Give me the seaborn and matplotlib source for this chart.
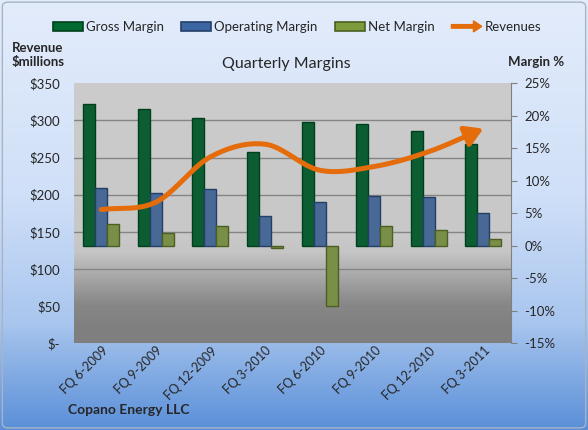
import numpy as np
import pandas as pd
import matplotlib
matplotlib.use("Agg")
import matplotlib.pyplot as plt
import matplotlib.patches as mpatches
from matplotlib.legend_handler import HandlerPatch
from matplotlib.colors import LinearSegmentedColormap
from matplotlib.ticker import FixedLocator
import seaborn as sns

# data
quarters = ["FQ 6-2009", "FQ 9-2009", "FQ 12-2009", "FQ 3-2010",
            "FQ 6-2010", "FQ 9-2010", "FQ 12-2010", "FQ 3-2011"]
gross_margin = [21.8, 21.1, 19.7, 14.5, 19.0, 18.8, 17.7, 15.6]
operating_margin = [8.9, 8.2, 8.8, 4.6, 6.8, 7.7, 7.5, 5.0]
net_margin = [3.4, 2.0, 3.1, -0.3, -9.3, 3.0, 2.4, 1.1]
revenues = [180, 190, 251, 268, 233, 238, 258, 289]

series_names = ["Gross Margin", "Operating Margin", "Net Margin"]
face = {"Gross Margin": "#006a31", "Operating Margin": "#3b66a2", "Net Margin": "#7e9b3c"}
edge = {"Gross Margin": "#003f1c", "Operating Margin": "#233f66", "Net Margin": "#4c5e22"}
orange = "#e46c0a"

df = pd.DataFrame({
    "Quarter": quarters * 3,
    "Series": np.repeat(series_names, len(quarters)),
    "Margin": gross_margin + operating_margin + net_margin,
})

sns.set_style("white")
plt.rcParams["font.family"] = ["Lato", "DejaVu Sans"]


def smooth_curve(xs, ys, n=20):
    # catmull-rom, roughly what excel does for "smoothed line"
    pts = np.column_stack([xs, ys]).astype(float)
    p = np.vstack([2 * pts[0] - pts[1], pts, 2 * pts[-1] - pts[-2]])
    t = np.linspace(0, 1, n, endpoint=False)[:, None]
    out = []
    for i in range(1, len(p) - 2):
        p0, p1, p2, p3 = p[i - 1], p[i], p[i + 1], p[i + 2]
        seg = 0.5 * (2 * p1 + (-p0 + p2) * t + (2 * p0 - 5 * p1 + 4 * p2 - p3) * t ** 2
                     + (-p0 + 3 * p1 - 3 * p2 + p3) * t ** 3)
        out.append(seg)
    out.append(pts[-1:])
    return np.vstack(out)


def arrow_handle(legend, orig_handle, xdescent, ydescent, width, height, fontsize):
    return mpatches.FancyArrow(0, height / 2, width, 0, width=height * 0.38,
                               head_width=height * 1.2, head_length=height * 0.9,
                               length_includes_head=True, color=orange)


fig = plt.figure(figsize=(5.88, 4.30), dpi=100)

# figure background gradient (light blue to blue)
bg = fig.add_axes([0, 0, 1, 1], zorder=-10)
bg_cmap = LinearSegmentedColormap.from_list(
    "bg", [(0, "#e3ecfb"), (0.45, "#d0e0f8"), (0.75, "#a9c6ee"), (1, "#5a8fd8")])
bg.imshow(np.linspace(0, 1, 256)[:, None], aspect="auto", cmap=bg_cmap, extent=[0, 1, 0, 1])
bg.axis("off")
fig.patches.append(mpatches.FancyBboxPatch((0.004, 0.005), 0.992, 0.99,
                                           boxstyle="round,pad=0,rounding_size=0.01",
                                           transform=fig.transFigure, fill=False,
                                           edgecolor="#a8b4c4", lw=1))

rect = [74 / 588, 1 - 343.3 / 430, (510.7 - 74) / 588, (343.3 - 83.3) / 430]

# plot area gradient (grey, darker towards the bottom)
pa = fig.add_axes(rect, zorder=-5)
pa_cmap = LinearSegmentedColormap.from_list(
    "pa", [(0, "#cccccc"), (0.6, "#c8c8c8"), (0.65, "#c5c5c5"), (0.75, "#a6a6a6"),
           (0.85, "#888888"), (0.93, "#808080"), (1, "#7f7f7f")])
pa.imshow(np.linspace(0, 1, 256)[:, None], aspect="auto", cmap=pa_cmap, extent=[0, 1, 0, 1])
pa.axis("off")

ax = fig.add_axes(rect)
ax.patch.set_visible(False)
ax2 = ax.twinx()

sns.barplot(data=df, x="Quarter", y="Margin", hue="Series", hue_order=series_names,
            palette=face, width=0.66, ax=ax, legend=False, linewidth=1, zorder=3)
for cont, name in zip(ax.containers, series_names):
    for bar in cont:
        bar.set_edgecolor(edge[name])

ax.set_ylim(-15, 25)
ax.set_xlim(-0.5, len(quarters) - 0.5)
ax.set_xlabel("")
ax.set_ylabel("")
ax.yaxis.tick_right()
ax.set_yticks(np.arange(-15, 26, 5))
ax.set_yticklabels([f"{v}%" for v in range(-15, 26, 5)])
ax.tick_params(axis="y", which="major", direction="out", length=4, color="#808080",
               labelsize=9.5, pad=6)
ax.set_xticks(np.arange(len(quarters)) + 0.08)
ax.set_xticklabels(quarters, rotation=45, ha="right", va="center", rotation_mode="anchor")
ax.tick_params(axis="x", which="major", length=0, labelsize=9, pad=4)
ax.set_xticks(np.arange(-0.5, len(quarters), 1), minor=True)
ax.tick_params(axis="x", which="minor", direction="in", length=5, color="#9c9c9c")

# gridlines follow the revenue axis ($50 steps)
rev_grid = np.arange(50, 351, 50)
ax.yaxis.set_minor_locator(FixedLocator(-15 + rev_grid * 40 / 350))
ax.tick_params(axis="y", which="minor", length=0)
ax.grid(axis="y", which="minor", color="#858585", lw=1, zorder=1)
ax.grid(axis="y", which="major", visible=False)
ax.set_axisbelow(True)
for side in ["left", "top", "bottom"]:
    ax.spines[side].set_visible(False)
ax.spines["right"].set_color("#808080")

# revenue line on its own axis, drawn on top of the bars
ax2.yaxis.tick_left()
ax2.set_ylim(0, 350)
ax2.set_yticks(np.arange(0, 351, 50))
ax2.set_yticklabels(["$-"] + [f"${v}" for v in range(50, 351, 50)])
ax2.tick_params(axis="y", length=0, labelsize=9.5, pad=10)
for side in ax2.spines:
    ax2.spines[side].set_visible(False)

curve = smooth_curve(np.arange(len(revenues)), revenues)
sns.lineplot(x=curve[:-4, 0], y=curve[:-4, 1], sort=False, ax=ax2, color=orange,
             lw=3.6, solid_capstyle="round")
ax2.annotate("", xy=curve[-1], xytext=curve[-6],
             arrowprops=dict(arrowstyle="-|>,head_length=0.75,head_width=0.45",
                             color=orange, lw=3.6, mutation_scale=14,
                             shrinkA=0, shrinkB=0))
ax2.set_xlim(-0.5, len(quarters) - 0.5)

handles = [mpatches.Patch(facecolor=face[n], edgecolor=edge[n], lw=1.2) for n in series_names]
handles.append(mpatches.Patch(color=orange))
fig.legend(handles, series_names + ["Revenues"], loc="center", ncol=4,
           bbox_to_anchor=(0.505, 1 - 27 / 430), frameon=False, fontsize=9.5,
           handlelength=2.3, handleheight=0.7, handletextpad=0.2, columnspacing=1.3,
           handler_map={handles[-1]: HandlerPatch(patch_func=arrow_handle)})

fig.text(286 / 588, 1 - 64 / 430, "Quarterly Margins", ha="center", va="center", fontsize=11.5)
fig.text(12 / 588, 1 - 55 / 430, "Revenue\n$millions", ha="left", va="center",
         fontsize=9.5, fontweight="bold", linespacing=1.25)
fig.text(508 / 588, 1 - 62 / 430, "Margin %", ha="left", va="center",
         fontsize=9.5, fontweight="bold")
fig.text(68 / 588, 1 - 410 / 430, "Copano Energy LLC", ha="left", va="center",
         fontsize=10, fontweight="bold")

fig.savefig("out.png", dpi=100)
